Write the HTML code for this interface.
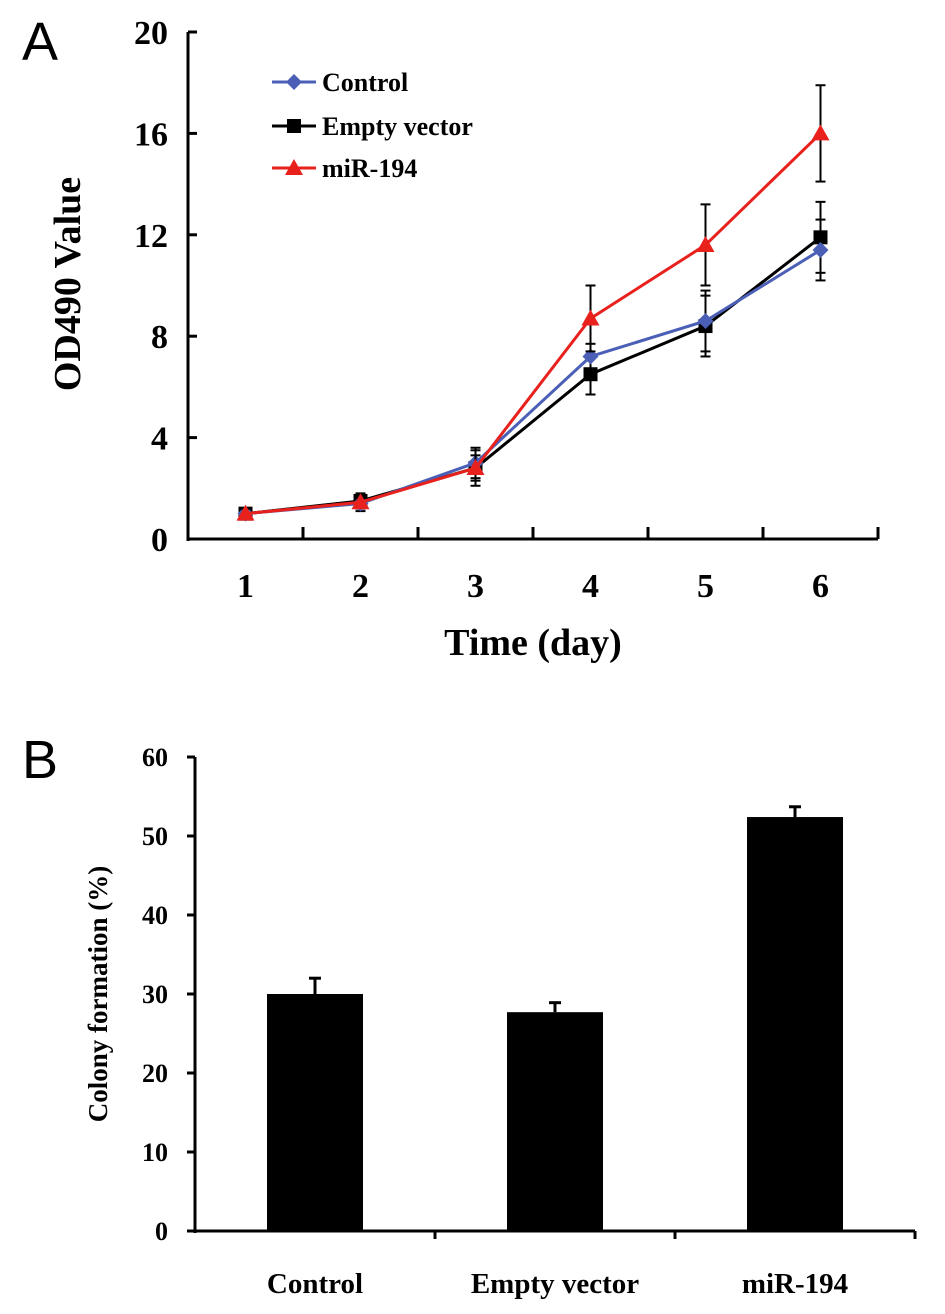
<!DOCTYPE html>
<html><head><meta charset="utf-8"><style>
body{margin:0;background:#fff;width:945px;height:1314px;overflow:hidden}
svg{display:block}
text{font-family:"Liberation Serif",serif;font-weight:bold;fill:#000}
</style></head><body>
<svg id="s" width="945" height="1314">
<text x="22" y="60" style="font-family:'Liberation Sans',sans-serif;font-weight:normal;font-size:54px">A</text>
<text x="22" y="778" style="font-family:'Liberation Sans',sans-serif;font-weight:normal;font-size:54px">B</text>
<g id="a"></g>
<g id="b"></g>
</svg>
<script>
const days=[1,2,3,4,5,6];
const yTicksA=[0,4,8,12,16,20];
const control=[1.0,1.4,3.0,7.2,8.6,11.4];
const controlErr=[0.2,0.3,0.6,0.5,1.2,1.2];
const empty=[1.0,1.5,2.8,6.5,8.4,11.9];
const emptyErr=[0.2,0.3,0.7,0.8,1.2,1.4];
const mir=[1.0,1.45,2.8,8.7,11.6,16.0];
const mirErr=[0.2,0.2,0.5,1.3,1.6,1.9];
const barCats=["Control","Empty vector","miR-194"];
const barVals=[30.0,27.7,52.4];
const barErr=[2.0,1.2,1.3];
const yTicksB=[0,10,20,30,40,50,60];

const NS="http://www.w3.org/2000/svg";
function el(p,t,a,txt){const e=document.createElementNS(NS,t);for(const k in a)e.setAttribute(k,a[k]);if(txt!==undefined)e.textContent=txt;p.appendChild(e);return e;}
const A=document.getElementById('a');
const x0=188,x1=878,yb=539,yt=32;
const xA=d=>x0+(d-0.5)*(x1-x0)/6;
const yA=v=>yb-v*(yb-yt)/20;
let e;
e=el(A,'line',{x1:x0,y1:yt,x2:x0,y2:yb+2,stroke:'#000','stroke-width':3});


e=el(A,'line',{x1:x0-1,y1:yb,x2:x1,y2:yb,stroke:'#000','stroke-width':3});


yTicksA.forEach(t=>{el(A,'line',{x1:x0,y1:yA(t),x2:x0+9,y2:yA(t),stroke:'#000','stroke-width':3});
 e=el(A,'text',{x:x0-20,y:yA(t)+12,'text-anchor':'end','font-size':34},t);
 
 });
for(let i=1;i<=6;i++){const tx=x0+i*(x1-x0)/6;el(A,'line',{x1:tx,y1:yb,x2:tx,y2:yb-12,stroke:'#000','stroke-width':3});}
days.forEach(d=>{e=el(A,'text',{x:xA(d),y:yb+58,'text-anchor':'middle','font-size':34},d);
 
 });
e=el(A,'text',{x:533,y:655,'text-anchor':'middle','font-size':38},'Time (day)');


e=el(A,'text',{x:0,y:0,'text-anchor':'middle','font-size':38,transform:'translate(80,284) rotate(-90)'},'OD490 Value');


function marker(g,type,cx,cy,col){
 if(type==='d')return el(g,'polygon',{points:`${cx},${cy-8} ${cx+8},${cy} ${cx},${cy+8} ${cx-8},${cy}`,fill:col});
 if(type==='s')return el(g,'rect',{x:cx-7,y:cy-7,width:14,height:14,fill:col});
 return el(g,'polygon',{points:`${cx},${cy-9} ${cx+9},${cy+7} ${cx-9},${cy+7}`,fill:col});
}
const series=[[empty,emptyErr,'#000','s','empty-vector'],[control,controlErr,'#4a5fb5','d','control'],[mir,mirErr,'#e8211d','t','mir-194']];
series.forEach(([vals,errs,col,m,nm])=>{
 const g=el(A,'g',{});
 
 
 vals.forEach((v,i)=>{const cx=xA(days[i]);const a=yA(v+errs[i]),b=yA(v-errs[i]);
  el(g,'line',{x1:cx,y1:a,x2:cx,y2:b,stroke:'#000','stroke-width':2});
  el(g,'line',{x1:cx-5,y1:a,x2:cx+5,y2:a,stroke:'#000','stroke-width':2});
  el(g,'line',{x1:cx-5,y1:b,x2:cx+5,y2:b,stroke:'#000','stroke-width':2});});
 el(g,'polyline',{points:vals.map((v,i)=>xA(days[i])+','+yA(v)).join(' '),fill:'none',stroke:col,'stroke-width':3});
 vals.forEach((v,i)=>{const p=marker(g,m,xA(days[i]),yA(v),col);
  
  });
});
[['Control','#4a5fb5','d',82],['Empty vector','#000','s',126],['miR-194','#e8211d','t',168]].forEach(([t,c,m,ly])=>{
 const g=el(A,'g',{});
 
 
 el(g,'line',{x1:272,y1:ly,x2:316,y2:ly,stroke:c,'stroke-width':3});
 marker(g,m,294,ly,c);
 el(g,'text',{x:322,y:ly+9,'font-size':26},t);
});

const B=document.getElementById('b');
const bx0=195,bx1=915,byb=1231,byt=757;
const yB=v=>byb-v*(byb-byt)/60;
const cw=(bx1-bx0)/3;
e=el(B,'line',{x1:bx0,y1:byt,x2:bx0,y2:byb+2,stroke:'#000','stroke-width':3});


e=el(B,'line',{x1:bx0-1,y1:byb,x2:bx1,y2:byb,stroke:'#000','stroke-width':3});


yTicksB.forEach(t=>{el(B,'line',{x1:bx0-8,y1:yB(t),x2:bx0,y2:yB(t),stroke:'#000','stroke-width':3});
 e=el(B,'text',{x:bx0-27,y:yB(t)+9,'text-anchor':'end','font-size':26},t);
 
 });
for(let i=1;i<=3;i++){const tx=bx0+i*cw;el(B,'line',{x1:tx,y1:byb,x2:tx,y2:byb+8,stroke:'#000','stroke-width':3});}
barCats.forEach((c,i)=>{const cx=bx0+(i+0.5)*cw;
 el(B,'line',{x1:cx,y1:yB(barVals[i]),x2:cx,y2:yB(barVals[i]+barErr[i]),stroke:'#000','stroke-width':3});
 el(B,'line',{x1:cx-6,y1:yB(barVals[i]+barErr[i]),x2:cx+6,y2:yB(barVals[i]+barErr[i]),stroke:'#000','stroke-width':3});
 e=el(B,'rect',{x:cx-48,y:yB(barVals[i]),width:96,height:byb-yB(barVals[i]),fill:'#000'});
 
 
 e=el(B,'text',{x:cx,y:1293,'text-anchor':'middle','font-size':29},c);
 
 });
e=el(B,'text',{x:0,y:0,'text-anchor':'middle','font-size':27,transform:'translate(107,994) rotate(-90)'},'Colony formation (%)');


</script>
</body></html>
